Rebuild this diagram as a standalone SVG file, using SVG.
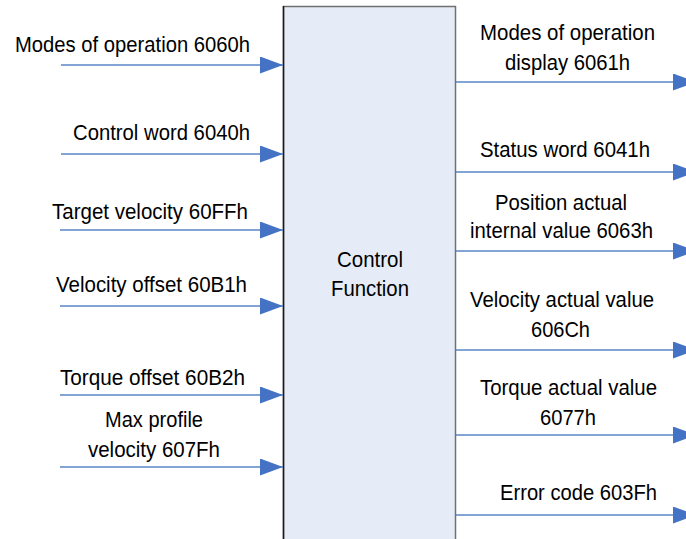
<svg xmlns="http://www.w3.org/2000/svg" width="686" height="539" viewBox="0 0 686 539">
<style>
text{font-family:"Liberation Sans",Arial,sans-serif;font-size:22.5px;fill:#000}
.c{stroke:#5b86c8;stroke-width:1.6;fill:none;marker-end:url(#ah)}
</style>
<defs>
<marker id="ah" markerUnits="userSpaceOnUse" markerWidth="24" markerHeight="18" refX="23" refY="8.5" orient="auto">
<path d="M0,0 L23,8.5 L0,17 z" fill="#4472c4"/>
</marker>
</defs>
<rect width="686" height="539" fill="#fff"/>
<g id="control-function">
<rect x="283.5" y="6.5" width="172" height="540" fill="#e6ecf7" stroke="#707070" stroke-width="1.5"/>
<line x1="283.5" y1="6" x2="283.5" y2="539" stroke="#1a1a1a" stroke-width="1.5"/>
<text x="370" y="267" text-anchor="middle" textLength="66" lengthAdjust="spacingAndGlyphs">Control</text>
<text x="370" y="296" text-anchor="middle" textLength="78" lengthAdjust="spacingAndGlyphs">Function</text>
</g>
<g id="connectors">
<line class="c" x1="61" y1="65" x2="283" y2="65"/>
<line class="c" x1="61" y1="154" x2="283" y2="154"/>
<line class="c" x1="60" y1="230" x2="283" y2="230"/>
<line class="c" x1="60" y1="306" x2="283" y2="306"/>
<line class="c" x1="60" y1="395" x2="283" y2="395"/>
<line class="c" x1="60" y1="467" x2="283" y2="467"/>
<line class="c" x1="456" y1="82" x2="696" y2="82"/>
<line class="c" x1="456" y1="172" x2="696" y2="172"/>
<line class="c" x1="456" y1="251" x2="696" y2="251"/>
<line class="c" x1="456" y1="350" x2="696" y2="350"/>
<line class="c" x1="456" y1="435" x2="696" y2="435"/>
<line class="c" x1="456" y1="515" x2="696" y2="515"/>
</g>
<g id="in-6060h"><text x="15" y="52" textLength="235" lengthAdjust="spacingAndGlyphs">Modes of operation 6060h</text></g>
<g id="in-6040h"><text x="73" y="140" textLength="177" lengthAdjust="spacingAndGlyphs">Control word 6040h</text></g>
<g id="in-60FFh"><text x="52" y="219" textLength="196" lengthAdjust="spacingAndGlyphs">Target velocity 60FFh</text></g>
<g id="in-60B1h"><text x="56" y="292" textLength="191" lengthAdjust="spacingAndGlyphs">Velocity offset 60B1h</text></g>
<g id="in-60B2h"><text x="60" y="385" textLength="185" lengthAdjust="spacingAndGlyphs">Torque offset 60B2h</text></g>
<g id="in-607Fh">
<text x="105" y="427" textLength="98" lengthAdjust="spacingAndGlyphs">Max profile</text>
<text x="88" y="457" textLength="132" lengthAdjust="spacingAndGlyphs">velocity 607Fh</text>
</g>
<g id="out-6061h">
<text x="480" y="40" textLength="175" lengthAdjust="spacingAndGlyphs">Modes of operation</text>
<text x="505" y="70" textLength="125" lengthAdjust="spacingAndGlyphs">display 6061h</text>
</g>
<g id="out-6041h"><text x="480" y="157" textLength="170" lengthAdjust="spacingAndGlyphs">Status word 6041h</text></g>
<g id="out-6063h">
<text x="495" y="210" textLength="132" lengthAdjust="spacingAndGlyphs">Position actual</text>
<text x="470" y="238" textLength="183" lengthAdjust="spacingAndGlyphs">internal value 6063h</text>
</g>
<g id="out-606Ch">
<text x="470" y="307" textLength="184" lengthAdjust="spacingAndGlyphs">Velocity actual value</text>
<text x="531" y="337" textLength="59" lengthAdjust="spacingAndGlyphs">606Ch</text>
</g>
<g id="out-6077h">
<text x="480" y="395" textLength="177" lengthAdjust="spacingAndGlyphs">Torque actual value</text>
<text x="540" y="425" textLength="56" lengthAdjust="spacingAndGlyphs">6077h</text>
</g>
<g id="out-603Fh"><text x="500" y="500" textLength="157" lengthAdjust="spacingAndGlyphs">Error code 603Fh</text></g>
</svg>
